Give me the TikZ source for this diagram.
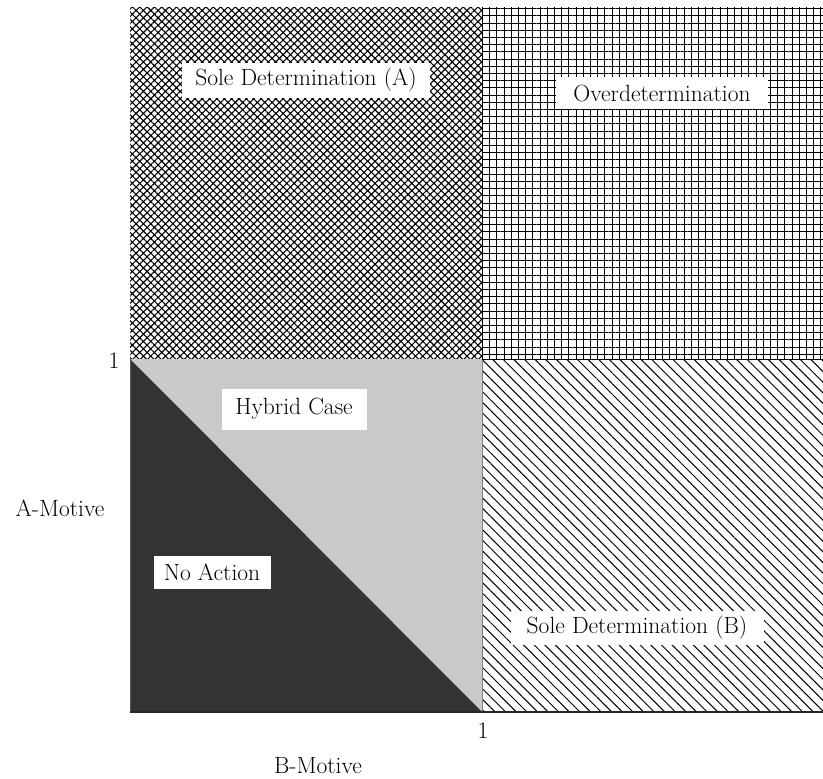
\documentclass[tikz,border=0pt]{standalone}
\usetikzlibrary{patterns.meta}
\definecolor{darkfill}{HTML}{333333}
\definecolor{lightfill}{HTML}{C9C9C9}
\tikzset{
  lbl/.style={fill=white, inner sep=0pt, font=\fontsize{23.5}{26}\selectfont},
  plain/.style={inner sep=0pt, font=\fontsize{23.5}{26}\selectfont},
}
\begin{document}
\begin{tikzpicture}[x=1pt,y=-1pt]
\useasboundingbox (0,0) rectangle (823,779);
% regions
\fill[pattern={Hatch[angle=45,distance=5.2pt,line width=1.1pt]}] (130,7) rectangle (482,359);
\fill[pattern={Hatch[angle=0,distance=7.2pt,line width=0.9pt]}] (482,7) rectangle (823,359);
\fill[pattern={Lines[angle=-45,distance=7.5pt,line width=1pt]}] (482,359) rectangle (823,712);
\fill[lightfill] (130,359) rectangle (482,712);
\fill[darkfill] (130,359) -- (482,712) -- (130,712) -- cycle;
% axes / borders
\draw[gray!70!black, line width=1pt] (130,359) -- (130,712);
\draw[gray, line width=1pt] (482,359) -- (482,712);
\draw[black, line width=1pt] (482,359) -- (823,359);
\draw[black!85, line width=1.6pt] (130,712) -- (823,712);
% labels
\node[lbl, minimum width=248pt, minimum height=35pt] (soleA) at (306,80) {Sole Determination (A)};
\node[lbl, minimum width=212pt, minimum height=32pt] (over) at (662,93) {Overdetermination};
\node[lbl, minimum width=145pt, minimum height=41pt] (hyb) at (294,409) {Hybrid Case};
\node[lbl, minimum width=117pt, minimum height=33pt] (noact) at (212,572) {No Action};
\node[lbl, minimum width=253pt, minimum height=34pt] (soleB) at (637,628) {Sole Determination (B)};
\node[plain] (onea) at (114,361) {1};
\node[plain] (oneb) at (483,731) {1};
\node[plain] (amot) at (60,508) {A-Motive};
\node[plain] (bmot) at (318,766) {B-Motive};
\end{tikzpicture}
\end{document}
